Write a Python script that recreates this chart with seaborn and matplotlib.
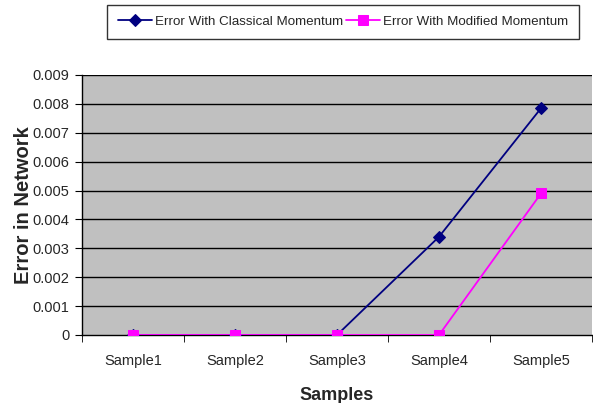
import matplotlib
matplotlib.use("Agg")
import matplotlib.pyplot as plt
import seaborn as sns
import pandas as pd
import numpy as np

samples = ["Sample1", "Sample2", "Sample3", "Sample4", "Sample5"]
classical = [0.0, 0.0, 0.0, 0.0034, 0.00785]
modified = [0.0, 0.0, 0.0, 0.0, 0.0049]
yticks = [0, 0.001, 0.002, 0.003, 0.004, 0.005, 0.006, 0.007, 0.008, 0.009]
ytick_labels = ["0", "0.001", "0.002", "0.003", "0.004", "0.005", "0.006", "0.007", "0.008", "0.009"]

sns.set_style("white")
plt.rcParams['font.family'] = ['Liberation Sans', 'DejaVu Sans']

df = pd.DataFrame({
    "x": list(range(len(samples))) * 2,
    "y": classical + modified,
    "series": ["Error With Classical Momentum"] * 5 + ["Error With Modified Momentum"] * 5,
})

fig = plt.figure(figsize=(5.93, 4.03), dpi=100)
ax = fig.add_axes([82/593, 68/403, 510/593, 260/403])
ax.set_facecolor("#C0C0C0")

sns.lineplot(data=df[df.series == "Error With Classical Momentum"], x="x", y="y",
             color="#000080", marker="D", markersize=6, linewidth=1.3,
             markeredgecolor="#000080", ax=ax, label="Error With Classical Momentum", zorder=3)
sns.lineplot(data=df[df.series == "Error With Modified Momentum"], x="x", y="y",
             color="#FF00FF", marker="s", markersize=7, linewidth=1.3,
             markeredgecolor="#FF00FF", ax=ax, label="Error With Modified Momentum", zorder=4)

ax.set_xlim(-0.5, 4.5)
ax.set_ylim(0, 0.009)
ax.set_yticks(yticks)
ax.set_yticklabels(ytick_labels, fontsize=10.5)
ax.set_xticks(range(len(samples)))
ax.set_xticklabels(samples, fontsize=10.5)
ax.tick_params(axis="x", which="major", length=0, pad=14)
ax.set_xticks(np.arange(-0.5, 5, 1), minor=True)
ax.tick_params(axis="x", which="minor", length=5, direction="out", color="black", bottom=True)
ax.tick_params(axis="y", length=5, direction="out", color="black", left=True, pad=4)

for v in yticks[1:]:
    ax.axhline(v, color="black", linewidth=1.0, zorder=1)

for s in ["top", "right"]:
    ax.spines[s].set_visible(False)
for s in ["left", "bottom"]:
    ax.spines[s].set_color("black")
    ax.spines[s].set_linewidth(1.0)
ax.spines["bottom"].set_zorder(2)

ax.set_xlabel("Samples", fontsize=13, fontweight="bold", labelpad=13)
ax.set_ylabel("Error in Network", fontsize=14.5, fontweight="bold", labelpad=0)

leg = ax.legend(loc="upper left", bbox_to_anchor=(107/593, 1 - 5/403), bbox_transform=fig.transFigure,
                ncol=2, frameon=True, fontsize=9.6, handlelength=2.6, columnspacing=0.2,
                handletextpad=0.2, borderpad=0.8, borderaxespad=0, fancybox=False, edgecolor="black")
leg.get_frame().set_linewidth(1.0)

fig.savefig("out.png", dpi=100)
